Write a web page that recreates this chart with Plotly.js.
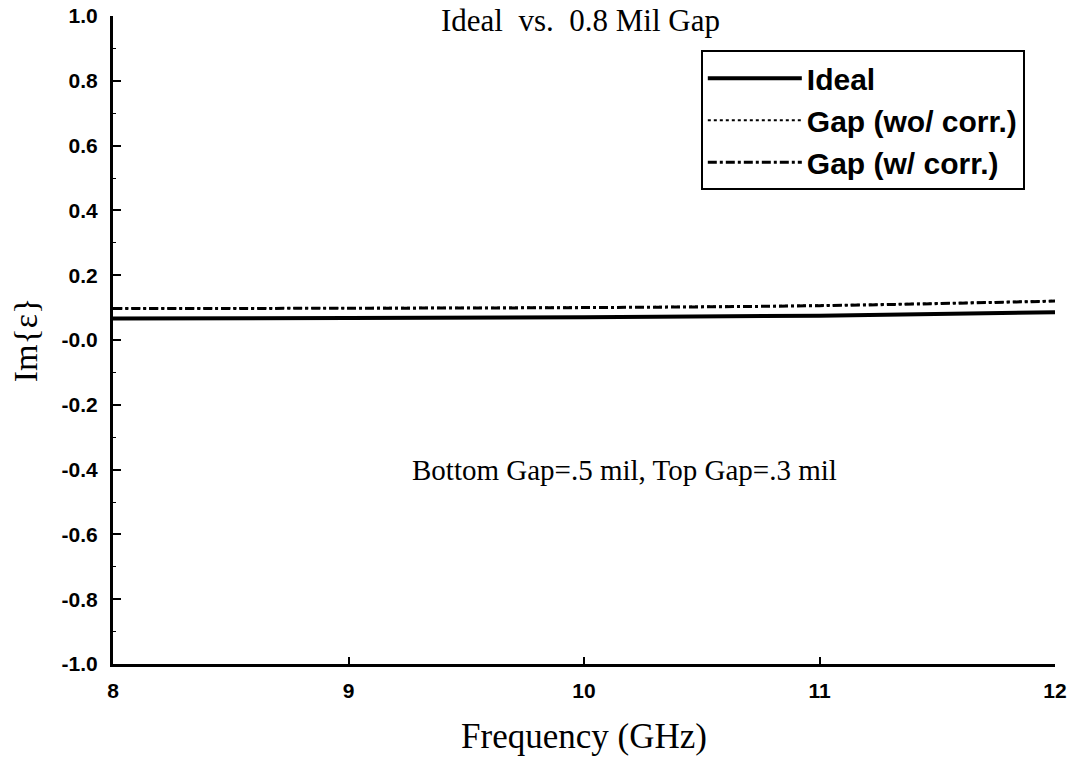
<!DOCTYPE html>
<html>
<head>
<meta charset="utf-8">
<script src="https://cdn.plot.ly/plotly-3.0.1.min.js"></script>
<style>html,body{margin:0;padding:0;background:#fff;}#chart{width:1078px;height:759px;}</style>
</head>
<body>
<div id="chart"></div>
<script>
const freq = [8, 9, 10, 11, 12];
const ideal = [0.066, 0.068, 0.070, 0.075, 0.086];
const gapNoCorr = [0.098, 0.099, 0.101, 0.107, 0.121];
const gapCorr = [0.097, 0.098, 0.100, 0.106, 0.120];
const yTickVals = [-1, -0.8, -0.6, -0.4, -0.2, 0, 0.2, 0.4, 0.6, 0.8, 1];
const yTickText = ['-1.0', '-0.8', '-0.6', '-0.4', '-0.2', '-0.0', '0.2', '0.4', '0.6', '0.8', '1.0'];
const xTickVals = [8, 9, 10, 11, 12];

const traces = [
  {x: freq, y: ideal, name: 'Ideal', mode: 'lines', line: {color: '#000', width: 4, shape: 'spline'}, legendgroup: 'a'},
  {x: freq, y: gapNoCorr, name: 'Gap (wo/ corr.)', mode: 'lines', line: {color: '#000', width: 2, dash: 'dot', shape: 'spline'}, legendgroup: 'b'},
  {x: freq, y: gapCorr, name: 'Gap (w/ corr.)', mode: 'lines', line: {color: '#000', width: 3, dash: '9px,3px,3px,3px', shape: 'spline'}, legendgroup: 'c'}
];

const serif = 'Liberation Serif, Times New Roman, serif';
const sans = 'Liberation Sans, Arial, sans-serif';

const layout = {
  width: 1078, height: 759,
  margin: {l: 113, r: 23, t: 16, b: 95},
  paper_bgcolor: '#fff', plot_bgcolor: '#fff',
  showlegend: true,
  legend: {
    x: 0.624, y: 0.947, xanchor: 'left', yanchor: 'top',
    bordercolor: '#000', borderwidth: 2, bgcolor: '#fff',
    font: {family: sans, size: 30, color: '#000', weight: 'bold'},
    traceorder: 'grouped', tracegroupgap: 0, itemwidth: 94
  },
  xaxis: {
    range: [8, 12], tickvals: xTickVals, ticks: 'inside', ticklen: 7, tickwidth: 2, tickcolor: '#000',
    showline: true, linecolor: '#000', linewidth: 3, showgrid: false, zeroline: false,
    tickfont: {family: sans, size: 21, color: '#000', weight: 'bold'},
    ticklabelstandoff: 6,
    title: {text: 'Frequency (GHz)', font: {family: serif, size: 35, color: '#000'}, standoff: 23}
  },
  yaxis: {
    range: [-1, 1], tickvals: yTickVals, ticktext: yTickText, ticks: 'inside', ticklen: 8, tickwidth: 2, tickcolor: '#000',
    minor: {tickvals: [-0.9, -0.7, -0.5, -0.3, -0.1, 0.1, 0.3, 0.5, 0.7, 0.9], ticks: 'inside', ticklen: 3, tickwidth: 1, tickcolor: '#000'},
    showline: true, linecolor: '#000', linewidth: 3, showgrid: false, zeroline: false,
    tickfont: {family: sans, size: 21, color: '#000', weight: 'bold'},
    ticklabelstandoff: 8,
    title: {text: 'Im{ε}', font: {family: serif, size: 34, color: '#000'}, standoff: 14}
  },
  annotations: [
    {text: 'Ideal  vs.  0.8 Mil Gap', xref: 'paper', yref: 'paper', x: 0.496, y: 1, xanchor: 'center', yanchor: 'middle', yshift: -4, showarrow: false,
     font: {family: serif, size: 31, color: '#000'}},
    {text: 'Bottom Gap=.5 mil, Top Gap=.3 mil', xref: 'x', yref: 'y', x: 10.17, y: -0.4, xanchor: 'center', yanchor: 'middle', showarrow: false,
     font: {family: serif, size: 29, color: '#000'}}
  ]
};
Plotly.newPlot('chart', traces, layout, {displayModeBar: false, staticPlot: true});
</script>
</body>
</html>
